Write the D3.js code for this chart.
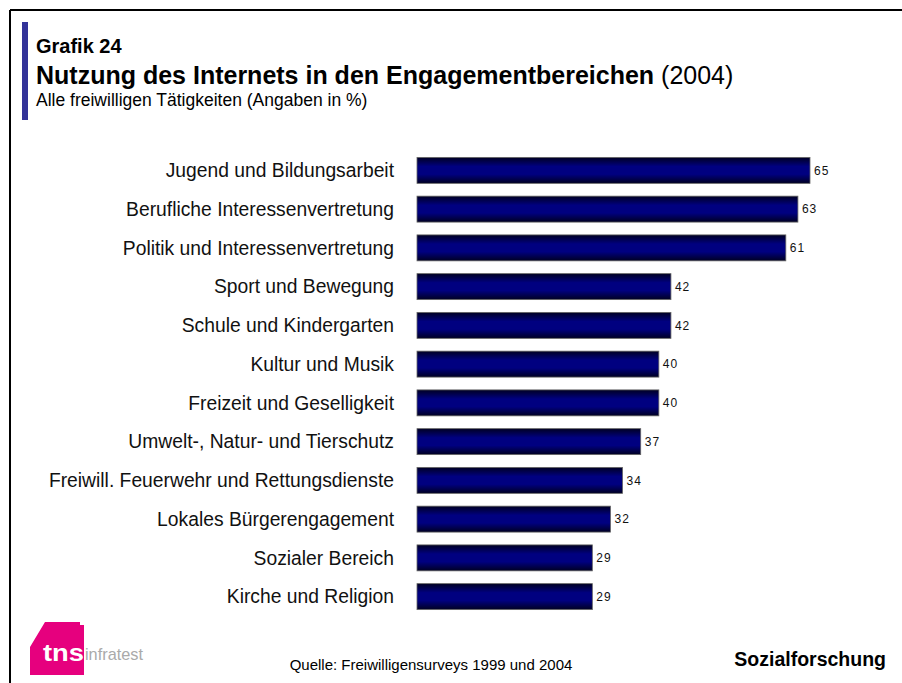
<!DOCTYPE html>
<html><head><meta charset="utf-8">
<script src="https://cdn.jsdelivr.net/npm/d3@7"></script>
<style>body{margin:0;background:#fff;}svg{display:block;font-family:"Liberation Sans",Arial,sans-serif;}</style>
</head><body>
<svg id="c" width="902" height="683"></svg>
<script>
const categories = ["Jugend und Bildungsarbeit","Berufliche Interessenvertretung","Politik und Interessenvertretung","Sport und Bewegung","Schule und Kindergarten","Kultur und Musik","Freizeit und Geselligkeit","Umwelt-, Natur- und Tierschutz","Freiwill. Feuerwehr und Rettungsdienste","Lokales Bürgerengagement","Sozialer Bereich","Kirche und Religion"];
const values = [65,63,61,42,42,40,40,37,34,32,29,29];

const svg = d3.select("#c");
// frame
svg.append("line").attr("x1",10).attr("x2",902).attr("y1",10).attr("y2",10).attr("stroke","#000").attr("stroke-width",2);
svg.append("line").attr("x1",10).attr("x2",10).attr("y1",10).attr("y2",683).attr("stroke","#000").attr("stroke-width",2);
// accent
svg.append("rect").attr("x",22).attr("y",22).attr("width",6).attr("height",98).attr("fill","#333399");
svg.append("text").attr("x",36).attr("y",53).attr("font-size",20).attr("font-weight","bold").text("Grafik 24");
const t = svg.append("text").attr("x",36).attr("y",84).attr("font-size",25);
t.append("tspan").attr("font-weight","bold").text("Nutzung des Internets in den Engagementbereichen");
t.append("tspan").text(" (2004)");
svg.append("text").attr("x",36).attr("y",106).attr("font-size",17.5).text("Alle freiwilligen Tätigkeiten (Angaben in %)");

const defs = svg.append("defs");
const g = defs.append("linearGradient").attr("id","bg").attr("x1",0).attr("x2",0).attr("y1",0).attr("y2",1);
g.append("stop").attr("offset","0%").attr("stop-color","#000022");
g.append("stop").attr("offset","35%").attr("stop-color","#000080");
g.append("stop").attr("offset","65%").attr("stop-color","#000080");
g.append("stop").attr("offset","100%").attr("stop-color","#000022");

const x = d3.scaleLinear().domain([0,65]).range([417,810]);
const y = d3.scaleBand().domain(categories).range([151,616]).paddingInner(0.33).paddingOuter(0.165);

svg.selectAll("rect.bar").data(values).join("rect").attr("class","bar")
  .attr("x",x(0)).attr("y",(d,i)=>y(categories[i])).attr("width",d=>x(d)-x(0)).attr("height",y.bandwidth())
  .attr("fill","url(#bg)").attr("stroke","#666").attr("stroke-width",0.8);
svg.selectAll("text.cat").data(categories).join("text").attr("class","cat")
  .attr("x",394).attr("y",d=>y(d)+y.bandwidth()/2).attr("dy","0.35em").attr("text-anchor","end")
  .attr("font-size",19.3).attr("fill","#111").text(d=>d);
svg.selectAll("text.val").data(values).join("text").attr("class","val")
  .attr("x",d=>x(d)+4).attr("y",(d,i)=>y(categories[i])+y.bandwidth()/2).attr("dy","0.35em")
  .attr("font-size",12).attr("letter-spacing",1).attr("fill","#111").text(d=>d);

// logo
svg.append("path").attr("d","M45,622 L80,622 L80,625 L84,625 L84,675 L30,675 L30,647 Z").attr("fill","#e6007e");
svg.append("text").attr("x",43).attr("y",661).attr("font-size",24).attr("font-weight","bold").attr("fill","#fff").attr("textLength",41).attr("lengthAdjust","spacingAndGlyphs").text("tns");
svg.append("text").attr("x",85).attr("y",660).attr("font-size",17).attr("fill","#aaa").attr("textLength",58).attr("lengthAdjust","spacingAndGlyphs").text("infratest");

svg.append("text").attr("x",431).attr("y",670).attr("text-anchor","middle").attr("font-size",15).text("Quelle: Freiwilligensurveys 1999 und 2004");
svg.append("text").attr("x",886).attr("y",666).attr("text-anchor","end").attr("font-size",19.5).attr("font-weight","bold").text("Sozialforschung");
</script>
</body></html>
